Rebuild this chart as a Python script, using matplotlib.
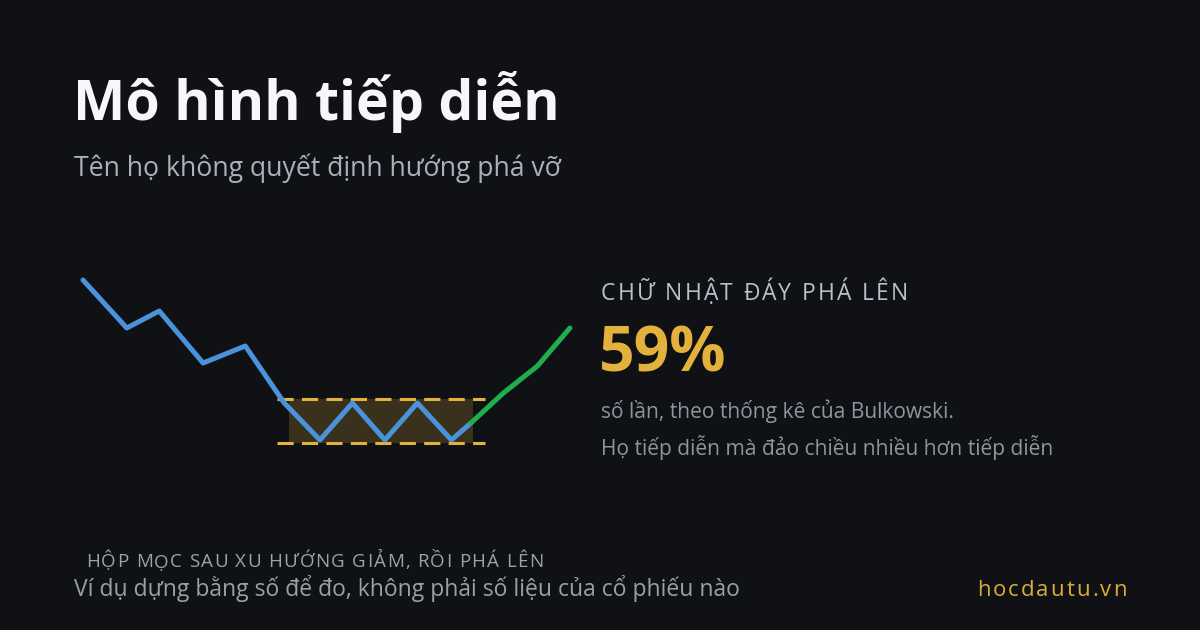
#!/usr/bin/env python3
"""Rectangle bottom (continuation pattern) card: downtrend, box, breakout up."""

import matplotlib
matplotlib.use("Agg")
import matplotlib.pyplot as plt

# --- data (illustrative numbers, not a real stock) ---
trend_days   = [0, 1.35, 2.35, 3.7, 5.0, 6.2, 7.3, 8.3, 9.3, 10.3, 11.35, 11.95]
trend_prices = [18.0, 13.2, 14.9, 9.7, 11.4, 5.7, 2.0, 5.7, 2.0, 5.7, 2.0, 3.7]
break_days   = [11.95, 12.95, 14.0, 15.0]
break_prices = [3.7, 6.7, 9.4, 13.2]
box_top, box_bottom = 6.15, 1.7
box_start, box_end = 6.34, 12.0
line_start, line_end = 5.97, 12.37

title = "Mô hình tiếp diễn"
subtitle = "Tên họ không quyết định hướng phá vỡ"
stat_label = "CHỮ NHẬT ĐÁY PHÁ LÊN"
stat_value = "59%"
stat_notes = ["số lần, theo thống kê của Bulkowski.",
              "Họ tiếp diễn mà đảo chiều nhiều hơn tiếp diễn"]
chart_caption = "HỘP MỌC SAU XU HƯỚNG GIẢM, RỒI PHÁ LÊN"
footnote = "Ví dụ dựng bằng số để đo, không phải số liệu của cổ phiếu nào"
brand = "hocdautu.vn"

BG = "#0f1114"
BLUE = "#4a93da"
GREEN = "#1fae4b"
GOLD = "#e3b23c"
FONT = ["Open Sans", "DejaVu Sans"]

W, H = 1200, 630
fig = plt.figure(figsize=(W / 100, H / 100), dpi=100, facecolor=BG)
renderer = fig.canvas.get_renderer()


def put(x, y, s, **kw):
    """Text at pixel position (x from left, y = baseline from top)."""
    return fig.text(x / W, 1 - y / H, s, va="baseline", ha="left",
                    family=FONT, **kw)


def text_width(s, **kw):
    t = put(0, H / 2, s, **kw)
    w = t.get_window_extent(renderer).width
    t.remove()
    return w


def put_tracked(x, y, s, track, **kw):
    """Letter-spaced text, one glyph at a time."""
    space_w = text_width("H H", **kw) - text_width("HH", **kw)
    cur = x
    for ch in s:
        if ch == " ":
            cur += space_w + track
            continue
        t = put(cur, y, ch, **kw)
        cur += t.get_window_extent(renderer).width + track


# --- chart ---
ax = fig.add_axes([50.5 / W, 170 / H, 551.9 / W, 200 / H])
ax.set_facecolor(BG)
ax.set_xlim(-1, 16)
ax.set_ylim(0, 20)
ax.axis("off")

ax.fill_between([box_start, box_end], box_bottom, box_top,
                color=GOLD, alpha=0.2, linewidth=0)
for lvl in (box_top, box_bottom):
    ax.plot([line_start, line_end], [lvl, lvl], color=GOLD, lw=2.2,
            dashes=(5.3, 2.7), solid_capstyle="butt")
ax.plot(trend_days, trend_prices, color=BLUE, lw=3.6,
        solid_joinstyle="round", solid_capstyle="round")
ax.plot(break_days, break_prices, color=GREEN, lw=3.6,
        solid_joinstyle="round", solid_capstyle="round")

# --- texts ---
put(73, 120, title, size=40, weight="bold", color="#f5f7fa")
put(74, 176, subtitle, size=19.2, color="#a9b1bd")

put_tracked(601, 300, stat_label, 2.2, size=16.5, color="#b9c1cc")
put(599, 371, stat_value, size=45, weight="bold", color=GOLD)
put(601, 418, stat_notes[0], size=15.1, color="#8d95a1")
put(601, 455, stat_notes[1], size=15.1, color="#8d95a1")

put_tracked(86, 567, chart_caption, 1.3, size=13.5, color="#9ba3ae")
put(74, 596, footnote, size=16.5, color="#9aa0a9")
put_tracked(977, 596, brand, 2.0, size=16, color="#d9ad3a")

fig.savefig("out.png", dpi=100, facecolor=BG)
